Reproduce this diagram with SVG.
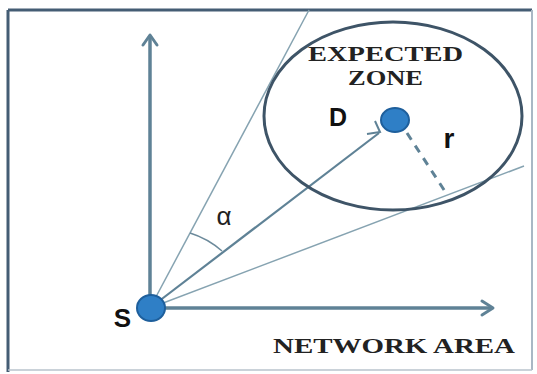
<svg xmlns="http://www.w3.org/2000/svg" width="537" height="374" viewBox="0 0 537 374">
<style>
.axis{stroke:#5f8296;stroke-width:3.5;fill:none}
.head{stroke:#5f8296;stroke-width:3;fill:none;stroke-linecap:round;stroke-linejoin:round}
.thin{stroke:#86a3b1;stroke-width:1.5;fill:none}
.dot{fill:#2f7fc6;stroke:#1e5f9c;stroke-width:2}
.sans{font-family:"Liberation Sans",Arial,sans-serif;font-weight:bold;fill:#111}
.serif{font-family:"Liberation Serif","Times New Roman",serif;font-weight:bold;fill:#222}
</style>
<rect width="537" height="374" fill="#fff"/>
<g id="frame">
<line x1="8" y1="10" x2="532" y2="10" stroke="#445d74" stroke-width="3"/>
<line x1="8" y1="10" x2="8" y2="372" stroke="#445d74" stroke-width="3"/>
<line x1="532" y1="10" x2="532" y2="370" stroke="#a9b7c4" stroke-width="2"/>
<line x1="8" y1="370" x2="532" y2="370" stroke="#b8c3cd" stroke-width="1.5"/>
</g>
<g id="connectors">
<line class="thin" x1="150" y1="308" x2="309" y2="10"/>
<line class="thin" x1="150" y1="308" x2="524" y2="166"/>
<line class="axis" x1="150" y1="308" x2="150" y2="36"/>
<polyline class="head" points="143,45 150,35 157,45"/>
<line class="axis" x1="150" y1="308" x2="492" y2="308"/>
<polyline class="head" points="482,301 493,308 482,315"/>
<line x1="150" y1="308" x2="379" y2="133" stroke="#5f8296" stroke-width="2.2"/>
<polyline points="367,134 380,132 375,121" stroke="#5f8296" stroke-width="2" fill="none"/>
<line x1="407" y1="133" x2="446" y2="193" stroke="#5f8296" stroke-width="3" stroke-dasharray="8,7"/>
<path d="M190,233 A88,88 0 0 1 222,251" stroke="#6c8a9b" stroke-width="1.5" fill="none"/>
</g>
<g id="zone">
<ellipse cx="393" cy="116" rx="129" ry="94" fill="none" stroke="#3e5467" stroke-width="3"/>
<text class="serif" x="385.5" y="61" font-size="22" text-anchor="middle" textLength="155" lengthAdjust="spacingAndGlyphs">EXPECTED</text>
<text class="serif" x="385.5" y="85" font-size="21" text-anchor="middle" textLength="75" lengthAdjust="spacingAndGlyphs">ZONE</text>
</g>
<g id="D">
<ellipse class="dot" cx="395" cy="120" rx="14" ry="12"/>
<text class="sans" x="338" y="126" font-size="25" text-anchor="middle">D</text>
</g>
<text id="r" class="sans" x="449" y="148" font-size="28" text-anchor="middle">r</text>
<g id="S">
<ellipse class="dot" cx="151" cy="308" rx="14" ry="13"/>
<text class="sans" x="122.5" y="327" font-size="26" text-anchor="middle">S</text>
</g>
<text id="alpha" x="224" y="225" font-size="26" text-anchor="middle" font-family="'Liberation Sans',Arial,sans-serif" fill="#222">α</text>
<text id="network" class="serif" x="394" y="353" font-size="22" text-anchor="middle" textLength="242" lengthAdjust="spacingAndGlyphs">NETWORK AREA</text>
</svg>
